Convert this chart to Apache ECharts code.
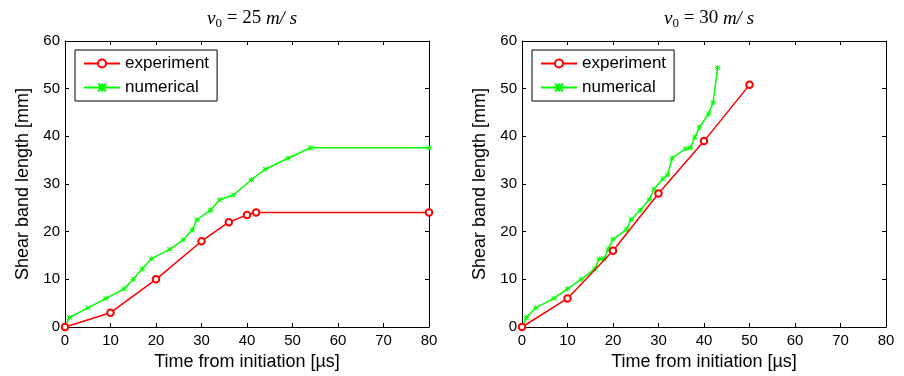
<!DOCTYPE html>
<html>
<head>
<meta charset="utf-8">
<script src="https://cdn.jsdelivr.net/npm/echarts@6/dist/echarts.min.js"></script>
<style>
html,body{margin:0;padding:0;background:#fff;}
#c{width:904px;height:376px;}
</style>
</head>
<body>
<div id="c"></div>
<script>
// ---- data ----
var xTicks = [0, 10, 20, 30, 40, 50, 60, 70, 80];
var yTicks = [0, 10, 20, 30, 40, 50, 60];

var expX25 = [0, 10, 20, 30, 36, 40, 42, 80];
var expY25 = [0, 3, 10, 18, 22, 23.5, 24, 24];
var numX25 = [0, 1, 5, 9, 13, 15, 17, 19, 23, 26, 28, 29, 32, 34, 37, 41, 44, 49, 54, 80];
var numY25 = [0, 2, 4, 6, 8, 10, 12.2, 14.3, 16.3, 18.3, 20.4, 22.5, 24.5, 26.7, 27.7, 30.9, 33.1, 35.4, 37.6, 37.6];

var expX30 = [0, 10, 20, 30, 40, 50];
var expY30 = [0, 6, 16, 28, 39, 50.8];
var numX30 = [0, 1, 3, 7, 10, 13, 16, 17, 18, 19, 20, 23, 24, 26, 28, 29, 31, 32, 33, 36, 37, 38, 39, 41, 42, 43];
var numY30 = [0, 2, 4, 6, 8, 10, 12.2, 14.3, 14.3, 16.4, 18.4, 20.5, 22.6, 24.5, 26.8, 28.9, 31.1, 31.9, 35.4, 37.4, 37.6, 39.8, 41.9, 44.7, 47.1, 54.4];

var seriesNames = ['experiment', 'numerical'];
var titles = ['25', '30'];
var xName = 'Time from initiation [\u00b5s]';
var yName = 'Shear band length [mm]';

function pairs(xs, ys) { return xs.map(function (x, i) { return [x, ys[i]]; }); }

var RED = '#ff0000', GREEN = '#00ff00';
var starPath = 'path://M0,0L10,10M10,0L0,10M5,0L5,10M0,5L10,5';

var grids = [
  { left: 65, top: 41, width: 364, height: 286 },
  { left: 522, top: 41, width: 364, height: 286 }
];

var xAxes = [], yAxes = [], series = [], legends = [], titleArr = [];
var dataSets = [[pairs(expX25, expY25), pairs(numX25, numY25)], [pairs(expX30, expY30), pairs(numX30, numY30)]];

grids.forEach(function (g, gi) {
  var tickCommon = { show: true, inside: true, length: 4, lineStyle: { color: '#000', width: 1 } };
  var lineCommon = { show: true, onZero: false, lineStyle: { color: '#000', width: 1 } };
  xAxes.push({
    type: 'value', gridIndex: gi, position: 'bottom', min: xTicks[0], max: xTicks[xTicks.length - 1], interval: 10,
    axisLine: lineCommon, axisTick: tickCommon, splitLine: { show: false },
    axisLabel: { color: '#000', fontSize: 15, fontFamily: 'Liberation Sans', margin: 6 },
    name: xName, nameLocation: 'middle', nameGap: 26,
    nameTextStyle: { color: '#000', fontSize: 18, fontFamily: 'Liberation Sans' }
  });
  xAxes.push({
    type: 'value', gridIndex: gi, position: 'top', min: xTicks[0], max: xTicks[xTicks.length - 1], interval: 10,
    axisLine: lineCommon, axisTick: tickCommon, splitLine: { show: false }, axisLabel: { show: false }
  });
  yAxes.push({
    type: 'value', gridIndex: gi, position: 'left', min: yTicks[0], max: yTicks[yTicks.length - 1], interval: 10,
    axisLine: lineCommon, axisTick: tickCommon, splitLine: { show: false },
    axisLabel: { color: '#000', fontSize: 15, fontFamily: 'Liberation Sans', margin: 5 },
    name: yName, nameLocation: 'middle', nameGap: 33,
    nameTextStyle: { color: '#000', fontSize: 18, fontFamily: 'Liberation Sans' }
  });
  yAxes.push({
    type: 'value', gridIndex: gi, position: 'right', min: yTicks[0], max: yTicks[yTicks.length - 1], interval: 10,
    axisLine: lineCommon, axisTick: tickCommon, splitLine: { show: false }, axisLabel: { show: false }
  });
  series.push({
    name: seriesNames[0], type: 'line', xAxisIndex: gi * 2, yAxisIndex: gi * 2,
    data: dataSets[gi][0], symbol: 'emptyCircle', symbolSize: 6.5, showAllSymbol: true,
    lineStyle: { color: RED, width: 1.5 }, itemStyle: { color: RED, borderColor: RED, borderWidth: 1.2 },
    animation: false, z: 3
  });
  series.push({
    name: seriesNames[1], type: 'line', xAxisIndex: gi * 2, yAxisIndex: gi * 2,
    data: dataSets[gi][1], symbol: starPath, symbolSize: 5, showAllSymbol: true,
    lineStyle: { color: GREEN, width: 1.5 }, itemStyle: { color: GREEN, borderColor: GREEN, borderWidth: 1 },
    animation: false, z: 2
  });
  legends.push({
    data: seriesNames, orient: 'vertical', left: g.left + 10, top: 50,
    backgroundColor: '#fff', borderColor: '#000', borderWidth: 1, padding: [5, 8, 5, 8],
    itemWidth: 36, itemHeight: 10, itemGap: 7,
    textStyle: { color: '#000', fontSize: 17, fontFamily: 'Liberation Sans' },
    selectedMode: false
  });
  titleArr.push({
    text: '{v|v}{s|0}{n| = ' + titles[gi] + ' }{v|m/ s}',
    left: g.left + g.width / 2, textAlign: 'center', top: 2,
    textStyle: {
      fontWeight: 'normal',
      rich: {
        v: { fontFamily: 'Liberation Serif', fontStyle: 'italic', fontWeight: 'normal', fontSize: 19, color: '#000' },
        s: { fontFamily: 'Liberation Serif', fontWeight: 'normal', fontSize: 13, color: '#000', padding: [10, 0, 0, 0] },
        n: { fontFamily: 'Liberation Serif', fontWeight: 'normal', fontSize: 19, color: '#000' }
      }
    }
  });
});

var chart = echarts.init(document.getElementById('c'), null, { renderer: 'canvas' });
chart.setOption({
  backgroundColor: '#fff',
  animation: false,
  title: titleArr,
  legend: legends,
  grid: grids,
  xAxis: xAxes,
  yAxis: yAxes,
  series: series
});
</script>
</body>
</html>
